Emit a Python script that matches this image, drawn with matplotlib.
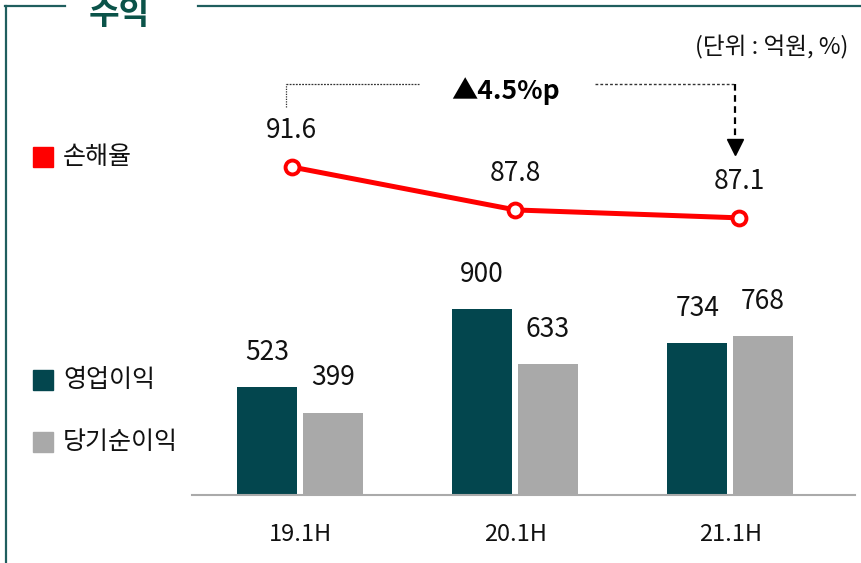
import matplotlib
matplotlib.use("Agg")
import matplotlib.pyplot as plt
from matplotlib import font_manager
from matplotlib.lines import Line2D
from matplotlib.patches import Rectangle

plt.rcParams['font.family'] = ['Noto Sans CJK KR', 'DejaVu Sans']

periods = ['19.1H', '20.1H', '21.1H']
op_profit = [523, 900, 734]      # 영업이익
net_profit = [399, 633, 768]     # 당기순이익
loss_ratio = [91.6, 87.8, 87.1]  # 손해율

dark = '#03464E'
gray = '#A9A9A9'
red = '#FF0000'
frame_col = '#1F5E5E'

names = {f.name for f in font_manager.fontManager.ttflist}
narrow = 'Liberation Sans Narrow' if 'Liberation Sans Narrow' in names else 'Noto Sans CJK KR'

W, H = 862, 563
fig = plt.figure(figsize=(W / 100, H / 100), dpi=100)

def box(x0, y0, x1, y1):
    # pixel box (top-left origin) -> figure fraction rect
    return [x0 / W, 1 - y1 / H, (x1 - x0) / W, (y1 - y0) / H]

# bars
ax = fig.add_axes(box(192, 280, 855, 495))
xs = range(len(periods))
ax.bar([x - 0.153 for x in xs], op_profit, width=0.279, color=dark)
ax.bar([x + 0.153 for x in xs], net_profit, width=0.279, color=gray)
for x, v in zip(xs, op_profit):
    ax.annotate(f'{v}', (x - 0.153, v), xytext=(0, 25), textcoords='offset points',
                ha='center', va='center', fontsize=19, color='#111111')
for x, v in zip(xs, net_profit):
    ax.annotate(f'{v}', (x + 0.153, v), xytext=(0, 25), textcoords='offset points',
                ha='center', va='center', fontsize=19, color='#111111')
ax.set_xlim(-0.502, 2.58)
ax.set_ylim(0, 1040)
for s in ['top', 'right', 'left']:
    ax.spines[s].set_visible(False)
ax.spines['bottom'].set_color('#AAAAAA')
ax.spines['bottom'].set_linewidth(1.5)
ax.set_yticks([])
ax.set_xticks(list(xs))
ax.set_xticklabels(periods, fontsize=17, family=narrow, color='#111111')
ax.tick_params(axis='x', length=0, pad=20)
ax.patch.set_alpha(0)

# loss ratio line
ax2 = fig.add_axes(box(192, 60, 855, 260))
ax2.plot(list(xs), loss_ratio, color=red, lw=3.6, marker='o', markersize=10,
         markerfacecolor='white', markeredgecolor=red, markeredgewidth=2.8, zorder=3)
for x, v in zip(xs, loss_ratio):
    ax2.annotate(f'{v}', (x, v), xytext=(0, 26), textcoords='offset points',
                 ha='center', va='center', fontsize=19, color='#111111')
ax2.set_xlim(-0.447, 2.519)
ax2.set_ylim(83.37, 101.07)
ax2.axis('off')

# change bracket
yb = 98.95
ax2.plot([-0.027, -0.027], [96.91, yb], color='#333333', lw=0.9, ls=(0, (1, 1)))
ax2.plot([-0.027, 0.568], [yb, yb], color='#333333', lw=0.9, ls=(0, (1.5, 1)))
ax2.plot([1.356, 1.982], [yb, yb], color='#333333', lw=1.0, ls=(0, (2, 1.5)))
ax2.plot([1.982, 1.982], [yb, 93.9], color='black', lw=1.6, ls=(0, (3, 2)))
ax2.plot([1.982], [93.4], marker='v', markersize=11, color='black', lw=0)
ax2.text(0.957, 98.3, '▲4.5%p', ha='center', va='center', fontsize=19,
         fontweight='bold', color='black')

# legend
legend = [(157, red, '손해율'), (380, dark, '영업이익'), (442, gray, '당기순이익')]
for yc, c, label in legend:
    fig.patches.append(Rectangle((33 / W, 1 - (yc + 10) / H), 20 / W, 20 / H,
                                 transform=fig.transFigure, color=c))
    fig.text(63 / W, 1 - yc / H, label, ha='left', va='center', fontsize=18, color='#111111')

fig.text(848 / W, 1 - 47 / H, '(단위 : 억원, %)', ha='right', va='center', fontsize=17,
         color='#111111')

# frame and title
fig.add_artist(Line2D([5 / W, 65 / W], [1 - 6 / H, 1 - 6 / H], color=frame_col, lw=1.6))
fig.add_artist(Line2D([198 / W, 1], [1 - 6 / H, 1 - 6 / H], color=frame_col, lw=1.6))
fig.add_artist(Line2D([6 / W, 6 / W], [1 - 6 / H, 0], color=frame_col, lw=1.6))
fig.text(119 / W, 1 - 24 / H, '수익', ha='center', va='baseline', fontsize=24,
         fontweight='bold', color='#0B5349')

fig.savefig('out.png', dpi=100)
